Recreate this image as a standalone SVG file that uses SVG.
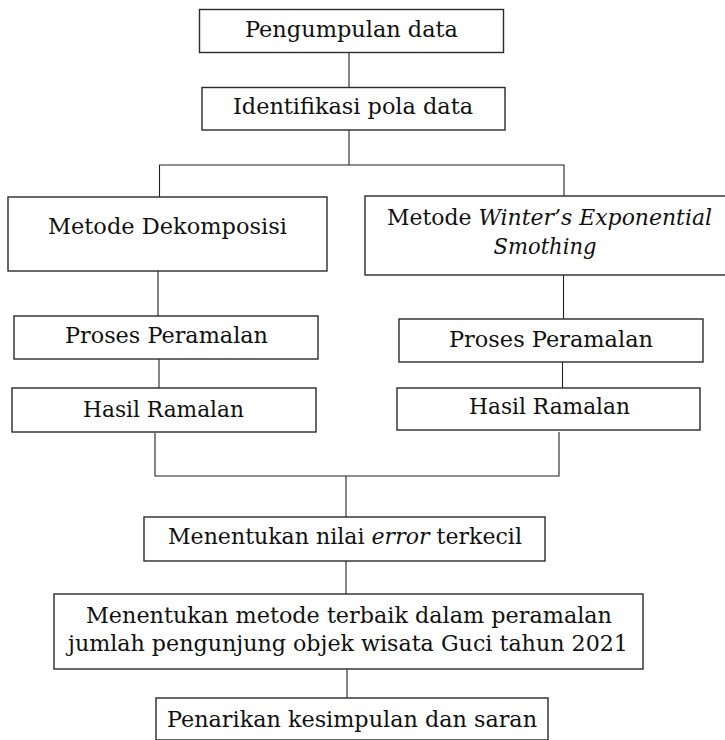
<svg xmlns="http://www.w3.org/2000/svg" width="725" height="740" viewBox="0 0 725 740">
<style>
.box{fill:#fff;stroke:#2a2a2a;stroke-width:1.4}
.t{font-family:"DejaVu Serif","Liberation Serif",serif;font-size:22.5px;fill:#111;text-anchor:middle}
.i{font-style:italic}
.c{stroke:#222;stroke-width:1.1;fill:none}
</style>
<rect width="725" height="740" fill="#fff"/>
<g id="connectors">
<line class="c" x1="349" y1="53" x2="349" y2="87.5" stroke-width="2"/>
<line class="c" x1="349" y1="130" x2="349" y2="165"/>
<polyline class="c" points="159.5,197 159.5,165 564,165 564,196"/>
<line class="c" x1="158" y1="271" x2="158" y2="316"/>
<line class="c" x1="159" y1="359" x2="159" y2="388"/>
<line class="c" x1="563.5" y1="275" x2="563.5" y2="319"/>
<line class="c" x1="562.5" y1="362" x2="562.5" y2="388"/>
<polyline class="c" points="155,433 155,476 559,476 559,432"/>
<line class="c" x1="346" y1="476" x2="346" y2="517"/>
<line class="c" x1="346" y1="561" x2="346" y2="594"/>
<line class="c" x1="347" y1="669" x2="347" y2="698"/>
</g>
<g id="n1"><rect class="box" x="199.5" y="9.5" width="304" height="43"/><text class="t" x="351.5" y="37" textLength="213" lengthAdjust="spacingAndGlyphs">Pengumpulan data</text></g>
<g id="n2"><rect class="box" x="202" y="87.5" width="303" height="42.5"/><text class="t" x="353" y="114" textLength="240" lengthAdjust="spacingAndGlyphs">Identifikasi pola data</text></g>
<g id="n3"><rect class="box" x="8" y="197" width="319" height="74"/><text class="t" x="167.5" y="234" textLength="239" lengthAdjust="spacingAndGlyphs">Metode Dekomposisi</text></g>
<g id="n4"><rect class="box" x="365" y="196" width="362" height="79"/><text class="t" x="549.5" y="225" textLength="325" lengthAdjust="spacingAndGlyphs">Metode <tspan class="i">Winter’s Exponential</tspan></text><text class="t i" x="545" y="254" textLength="103" lengthAdjust="spacingAndGlyphs">Smothing</text></g>
<g id="n5"><rect class="box" x="14" y="316" width="304" height="43"/><text class="t" x="166.5" y="343" textLength="203" lengthAdjust="spacingAndGlyphs">Proses Peramalan</text></g>
<g id="n6"><rect class="box" x="12" y="388" width="304" height="44"/><text class="t" x="163.5" y="417" textLength="161" lengthAdjust="spacingAndGlyphs">Hasil Ramalan</text></g>
<g id="n7"><rect class="box" x="399" y="319" width="304" height="43"/><text class="t" x="551" y="347" textLength="204" lengthAdjust="spacingAndGlyphs">Proses Peramalan</text></g>
<g id="n8"><rect class="box" x="397" y="388" width="303" height="42"/><text class="t" x="549.5" y="414" textLength="161" lengthAdjust="spacingAndGlyphs">Hasil Ramalan</text></g>
<g id="n9"><rect class="box" x="144" y="517" width="401" height="44"/><text class="t" x="345" y="544" textLength="354" lengthAdjust="spacingAndGlyphs">Menentukan nilai <tspan class="i">error</tspan> terkecil</text></g>
<g id="n10"><rect class="box" x="54" y="594" width="589" height="75"/><text class="t" x="349" y="622.5" textLength="526" lengthAdjust="spacingAndGlyphs">Menentukan metode terbaik dalam peramalan</text><text class="t" x="348" y="651" textLength="560" lengthAdjust="spacingAndGlyphs">jumlah pengunjung objek wisata Guci tahun 2021</text></g>
<g id="n11"><rect class="box" x="156" y="698" width="392" height="42"/><text class="t" x="352" y="726.5" textLength="370" lengthAdjust="spacingAndGlyphs">Penarikan kesimpulan dan saran</text></g>
</svg>
